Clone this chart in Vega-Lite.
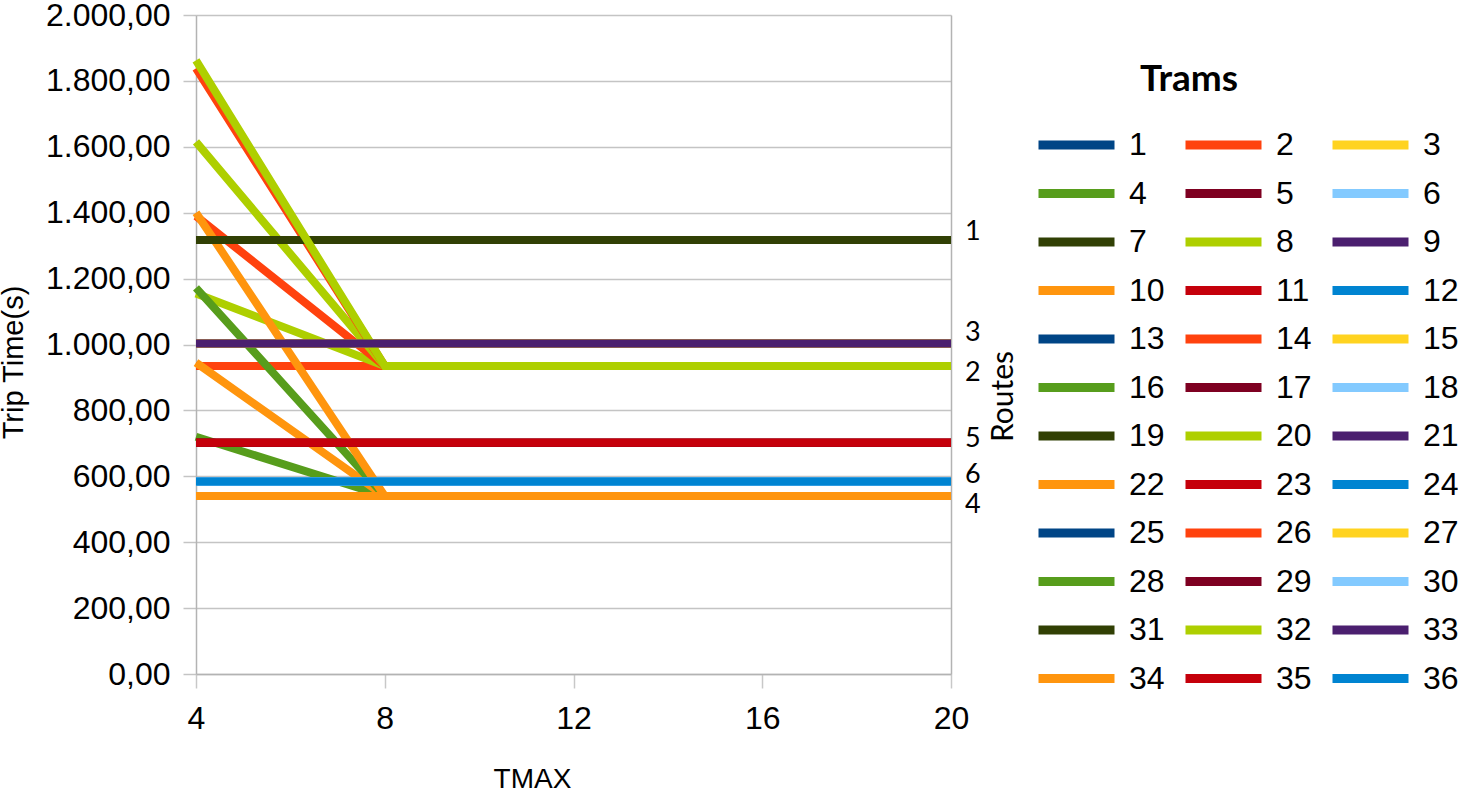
{
  "$schema": "https://vega.github.io/schema/vega-lite/v6.json",
  "width": 755,
  "height": 659,
  "autosize": {"type": "none"},
  "padding": {"left": 196, "top": 15, "right": 507, "bottom": 119},
  "background": "white",
  "title": {"text": "Trams", "anchor": "start", "frame": "group", "orient": "top", "offset": 0, "baseline": "top", "dx": 944, "dy": 100, "font": "Lato", "fontSize": 37, "fontWeight": "bold", "color": "black"},
  "config": {"view": {"stroke": null}, "font": "Liberation Sans"},
  "datasets": {
    "trams": [
      {"tram":1,"tmax":4,"time":1317},{"tram":1,"tmax":8,"time":1317},{"tram":1,"tmax":12,"time":1317},{"tram":1,"tmax":16,"time":1317},{"tram":1,"tmax":20,"time":1317},
      {"tram":2,"tmax":4,"time":935},{"tram":2,"tmax":8,"time":935},{"tram":2,"tmax":12,"time":935},{"tram":2,"tmax":16,"time":935},{"tram":2,"tmax":20,"time":935},
      {"tram":3,"tmax":4,"time":1003},{"tram":3,"tmax":8,"time":1003},{"tram":3,"tmax":12,"time":1003},{"tram":3,"tmax":16,"time":1003},{"tram":3,"tmax":20,"time":1003},
      {"tram":4,"tmax":4,"time":720},{"tram":4,"tmax":8,"time":540},{"tram":4,"tmax":12,"time":540},{"tram":4,"tmax":16,"time":540},{"tram":4,"tmax":20,"time":540},
      {"tram":5,"tmax":4,"time":702},{"tram":5,"tmax":8,"time":702},{"tram":5,"tmax":12,"time":702},{"tram":5,"tmax":16,"time":702},{"tram":5,"tmax":20,"time":702},
      {"tram":6,"tmax":4,"time":584},{"tram":6,"tmax":8,"time":584},{"tram":6,"tmax":12,"time":584},{"tram":6,"tmax":16,"time":584},{"tram":6,"tmax":20,"time":584},
      {"tram":7,"tmax":4,"time":1317},{"tram":7,"tmax":8,"time":1317},{"tram":7,"tmax":12,"time":1317},{"tram":7,"tmax":16,"time":1317},{"tram":7,"tmax":20,"time":1317},
      {"tram":8,"tmax":4,"time":1155},{"tram":8,"tmax":8,"time":935},{"tram":8,"tmax":12,"time":935},{"tram":8,"tmax":16,"time":935},{"tram":8,"tmax":20,"time":935},
      {"tram":9,"tmax":4,"time":1003},{"tram":9,"tmax":8,"time":1003},{"tram":9,"tmax":12,"time":1003},{"tram":9,"tmax":16,"time":1003},{"tram":9,"tmax":20,"time":1003},
      {"tram":10,"tmax":4,"time":945},{"tram":10,"tmax":8,"time":540},{"tram":10,"tmax":12,"time":540},{"tram":10,"tmax":16,"time":540},{"tram":10,"tmax":20,"time":540},
      {"tram":11,"tmax":4,"time":702},{"tram":11,"tmax":8,"time":702},{"tram":11,"tmax":12,"time":702},{"tram":11,"tmax":16,"time":702},{"tram":11,"tmax":20,"time":702},
      {"tram":12,"tmax":4,"time":584},{"tram":12,"tmax":8,"time":584},{"tram":12,"tmax":12,"time":584},{"tram":12,"tmax":16,"time":584},{"tram":12,"tmax":20,"time":584},
      {"tram":13,"tmax":4,"time":1317},{"tram":13,"tmax":8,"time":1317},{"tram":13,"tmax":12,"time":1317},{"tram":13,"tmax":16,"time":1317},{"tram":13,"tmax":20,"time":1317},
      {"tram":14,"tmax":4,"time":1390},{"tram":14,"tmax":8,"time":935},{"tram":14,"tmax":12,"time":935},{"tram":14,"tmax":16,"time":935},{"tram":14,"tmax":20,"time":935},
      {"tram":15,"tmax":4,"time":1003},{"tram":15,"tmax":8,"time":1003},{"tram":15,"tmax":12,"time":1003},{"tram":15,"tmax":16,"time":1003},{"tram":15,"tmax":20,"time":1003},
      {"tram":16,"tmax":4,"time":1172},{"tram":16,"tmax":8,"time":540},{"tram":16,"tmax":12,"time":540},{"tram":16,"tmax":16,"time":540},{"tram":16,"tmax":20,"time":540},
      {"tram":17,"tmax":4,"time":702},{"tram":17,"tmax":8,"time":702},{"tram":17,"tmax":12,"time":702},{"tram":17,"tmax":16,"time":702},{"tram":17,"tmax":20,"time":702},
      {"tram":18,"tmax":4,"time":584},{"tram":18,"tmax":8,"time":584},{"tram":18,"tmax":12,"time":584},{"tram":18,"tmax":16,"time":584},{"tram":18,"tmax":20,"time":584},
      {"tram":19,"tmax":4,"time":1317},{"tram":19,"tmax":8,"time":1317},{"tram":19,"tmax":12,"time":1317},{"tram":19,"tmax":16,"time":1317},{"tram":19,"tmax":20,"time":1317},
      {"tram":20,"tmax":4,"time":1615},{"tram":20,"tmax":8,"time":935},{"tram":20,"tmax":12,"time":935},{"tram":20,"tmax":16,"time":935},{"tram":20,"tmax":20,"time":935},
      {"tram":21,"tmax":4,"time":1003},{"tram":21,"tmax":8,"time":1003},{"tram":21,"tmax":12,"time":1003},{"tram":21,"tmax":16,"time":1003},{"tram":21,"tmax":20,"time":1003},
      {"tram":22,"tmax":4,"time":1400},{"tram":22,"tmax":8,"time":540},{"tram":22,"tmax":12,"time":540},{"tram":22,"tmax":16,"time":540},{"tram":22,"tmax":20,"time":540},
      {"tram":23,"tmax":4,"time":702},{"tram":23,"tmax":8,"time":702},{"tram":23,"tmax":12,"time":702},{"tram":23,"tmax":16,"time":702},{"tram":23,"tmax":20,"time":702},
      {"tram":24,"tmax":4,"time":584},{"tram":24,"tmax":8,"time":584},{"tram":24,"tmax":12,"time":584},{"tram":24,"tmax":16,"time":584},{"tram":24,"tmax":20,"time":584},
      {"tram":25,"tmax":4,"time":1317},{"tram":25,"tmax":8,"time":1317},{"tram":25,"tmax":12,"time":1317},{"tram":25,"tmax":16,"time":1317},{"tram":25,"tmax":20,"time":1317},
      {"tram":26,"tmax":4,"time":1838},{"tram":26,"tmax":8,"time":935},{"tram":26,"tmax":12,"time":935},{"tram":26,"tmax":16,"time":935},{"tram":26,"tmax":20,"time":935},
      {"tram":27,"tmax":4,"time":1003},{"tram":27,"tmax":8,"time":1003},{"tram":27,"tmax":12,"time":1003},{"tram":27,"tmax":16,"time":1003},{"tram":27,"tmax":20,"time":1003},
      {"tram":28,"tmax":4,"time":540},{"tram":28,"tmax":8,"time":540},{"tram":28,"tmax":12,"time":540},{"tram":28,"tmax":16,"time":540},{"tram":28,"tmax":20,"time":540},
      {"tram":29,"tmax":4,"time":702},{"tram":29,"tmax":8,"time":702},{"tram":29,"tmax":12,"time":702},{"tram":29,"tmax":16,"time":702},{"tram":29,"tmax":20,"time":702},
      {"tram":30,"tmax":4,"time":584},{"tram":30,"tmax":8,"time":584},{"tram":30,"tmax":12,"time":584},{"tram":30,"tmax":16,"time":584},{"tram":30,"tmax":20,"time":584},
      {"tram":31,"tmax":4,"time":1317},{"tram":31,"tmax":8,"time":1317},{"tram":31,"tmax":12,"time":1317},{"tram":31,"tmax":16,"time":1317},{"tram":31,"tmax":20,"time":1317},
      {"tram":32,"tmax":4,"time":1862},{"tram":32,"tmax":8,"time":935},{"tram":32,"tmax":12,"time":935},{"tram":32,"tmax":16,"time":935},{"tram":32,"tmax":20,"time":935},
      {"tram":33,"tmax":4,"time":1003},{"tram":33,"tmax":8,"time":1003},{"tram":33,"tmax":12,"time":1003},{"tram":33,"tmax":16,"time":1003},{"tram":33,"tmax":20,"time":1003},
      {"tram":34,"tmax":4,"time":540},{"tram":34,"tmax":8,"time":540},{"tram":34,"tmax":12,"time":540},{"tram":34,"tmax":16,"time":540},{"tram":34,"tmax":20,"time":540},
      {"tram":35,"tmax":4,"time":702},{"tram":35,"tmax":8,"time":702},{"tram":35,"tmax":12,"time":702},{"tram":35,"tmax":16,"time":702},{"tram":35,"tmax":20,"time":702},
      {"tram":36,"tmax":4,"time":584},{"tram":36,"tmax":8,"time":584},{"tram":36,"tmax":12,"time":584},{"tram":36,"tmax":16,"time":584},{"tram":36,"tmax":20,"time":584}
    ],
    "routes": [
      {"route":"1","tmax":20,"labelTime":1340},
      {"route":"3","tmax":20,"labelTime":1035},
      {"route":"2","tmax":20,"labelTime":912},
      {"route":"5","tmax":20,"labelTime":713},
      {"route":"6","tmax":20,"labelTime":604},
      {"route":"4","tmax":20,"labelTime":513}
    ]
  },
  "layer": [
    {
      "data": {"name": "trams"},
      "mark": {"type": "line", "strokeWidth": 8},
      "encoding": {
        "x": {
          "field": "tmax", "type": "quantitative",
          "scale": {"domain": [4, 20], "nice": false, "zero": false},
          "axis": {
            "title": "TMAX", "values": [4, 8, 12, 16, 20], "grid": false,
            "tickSize": 14, "tickColor": "#c8c8c8", "tickWidth": 1.5,
            "domainColor": "#b3b3b3", "domainWidth": 1.5,
            "labelFont": "Liberation Sans", "labelFontSize": 32, "labelColor": "black", "labelPadding": 15,
            "labelFlush": false, "labelOverlap": false,
            "titleFont": "Liberation Sans", "titleFontSize": 28, "titleFontWeight": "normal", "titleColor": "black",
            "titleX": 336, "titleY": 113, "titleBaseline": "alphabetic", "titleAlign": "center"
          }
        },
        "y": {
          "field": "time", "type": "quantitative",
          "scale": {"domain": [0, 2000], "nice": false},
          "axis": {
            "title": "Trip Time(s)", "values": [0, 200, 400, 600, 800, 1000, 1200, 1400, 1600, 1800, 2000],
            "labelExpr": "replace(replace(replace(format(datum.value, ',.2f'), '.', '#'), ',', '.'), '#', ',')",
            "grid": true, "gridColor": "#c4c4c4", "gridWidth": 1.5,
            "tickSize": 13, "tickColor": "#c4c4c4", "tickWidth": 1.5,
            "domainColor": "#b3b3b3", "domainWidth": 1.5,
            "labelFont": "Liberation Sans", "labelFontSize": 32, "labelColor": "black", "labelPadding": 13,
            "labelFlush": false, "labelOverlap": false, "labelBound": false,
            "titleFont": "Liberation Sans", "titleFontSize": 29, "titleFontWeight": "normal", "titleColor": "black",
            "titleX": -183, "titleY": 347, "titleAngle": 270, "titleBaseline": "middle", "titleAlign": "center"
          }
        },
        "color": {
          "field": "tram", "type": "nominal",
          "scale": {
            "domain": [1,2,3,4,5,6,7,8,9,10,11,12,13,14,15,16,17,18,19,20,21,22,23,24,25,26,27,28,29,30,31,32,33,34,35,36],
            "range": ["#004586","#ff420e","#ffd320","#579d1c","#7e0021","#83caff","#314004","#aecf00","#4b1f6f","#ff950e","#c5000b","#0084d1",
                      "#004586","#ff420e","#ffd320","#579d1c","#7e0021","#83caff","#314004","#aecf00","#4b1f6f","#ff950e","#c5000b","#0084d1",
                      "#004586","#ff420e","#ffd320","#579d1c","#7e0021","#83caff","#314004","#aecf00","#4b1f6f","#ff950e","#c5000b","#0084d1"]
          },
          "legend": {
            "title": null, "orient": "none", "legendX": 838, "legendY": 114, "padding": 0,
            "direction": "horizontal", "columns": 3, "symbolLimit": 0, "clipHeight": 32,
            "symbolType": "stroke", "symbolSize": 5776, "symbolStrokeWidth": 9,
            "labelFont": "Liberation Sans", "labelFontSize": 32, "labelColor": "black", "labelOffset": 10,
            "columnPadding": 16, "rowPadding": 16.5, "labelLimit": 200
          }
        }
      }
    },
    {
      "data": {"name": "routes"},
      "mark": {"type": "text", "align": "left", "baseline": "middle", "dx": 14, "font": "Lato", "fontSize": 27, "color": "black"},
      "encoding": {
        "x": {"field": "tmax", "type": "quantitative"},
        "y": {
          "field": "labelTime", "type": "quantitative",
          "scale": {"domain": [0, 2000], "nice": false},
          "axis": {
            "orient": "right", "title": "Routes", "labels": false, "ticks": false, "grid": false,
            "domainColor": "#b3b3b3", "domainWidth": 1.5,
            "titleFont": "Lato", "titleFontSize": 30, "titleFontWeight": "normal", "titleColor": "black",
            "titleX": 52, "titleY": 381, "titleAngle": 270, "titleBaseline": "middle", "titleAlign": "center"
          }
        },
        "text": {"field": "route"}
      }
    }
  ],
  "resolve": {"scale": {"y": "independent"}}
}
